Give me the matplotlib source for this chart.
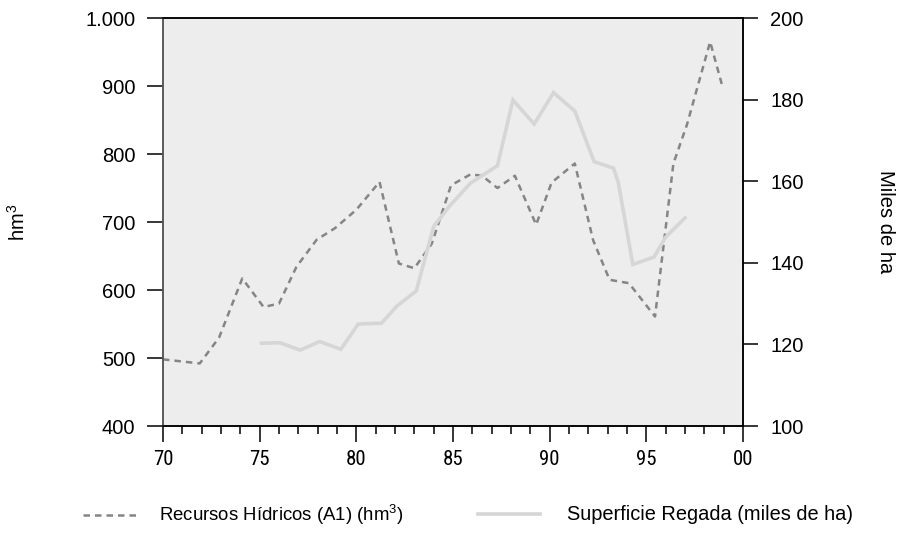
"""
plot.py — Recursos hídricos vs superficie regada, 1970-2000.
"""

import matplotlib

matplotlib.use("Agg")
import matplotlib.pyplot as plt
from matplotlib import font_manager
from matplotlib.font_manager import FontProperties
from matplotlib.ticker import FixedLocator, MultipleLocator

# ---------------------------------------------------------------------------
# Data
# ---------------------------------------------------------------------------

# Recursos Hídricos (A1), hm3 — left axis
water_years = [70.0, 71.9, 72.9, 74.1, 75.2, 76.0, 76.9, 77.95, 78.9, 80.0,
               81.2, 82.2, 83.0, 83.9, 84.9, 85.9, 86.5, 87.3, 88.2, 89.3,
               90.1, 91.3, 92.25, 93.1, 94.1, 95.45, 96.4, 97.1, 98.3, 98.9]
water_hm3 = [498, 492, 530, 617, 575, 580, 634, 674, 691, 718,
             759, 639, 632, 668, 754, 770, 768, 750, 768, 696,
             758, 786, 673, 615, 610, 561, 786, 843, 965, 903]

# Superficie Regada, miles de ha — right axis
irrig_years = [75.1, 76.05, 77.1, 78.1, 79.2, 80.1, 81.3, 82.1, 83.1, 84.0,
               84.8, 85.9, 87.3, 88.1, 89.2, 90.2, 91.3, 92.3, 93.3, 93.55,
               94.3, 95.4, 96.0, 97.0]
irrig_kha = [120.3, 120.4, 118.6, 120.7, 118.8, 125.0, 125.2, 129.4, 133.1, 148.9,
             153.8, 159.5, 163.8, 179.9, 174.0, 181.7, 177.2, 164.8, 163.2, 159.7,
             139.6, 141.4, 146.3, 151.0]

x_tick_pos = [70, 75, 80, 85, 90, 95, 100]
x_tick_labels = ["70", "75", "80", "85", "90", "95", "00"]
left_ticks = [400, 500, 600, 700, 800, 900, 1000]
left_tick_labels = ["400", "500", "600", "700", "800", "900", "1.000"]
right_ticks = [100, 120, 140, 160, 180, 200]

# ---------------------------------------------------------------------------
# Fonts
# ---------------------------------------------------------------------------

_entries = font_manager.fontManager.ttflist
_installed = {f.name for f in _entries}
BASE_FONT = "Liberation Sans" if "Liberation Sans" in _installed else "DejaVu Sans"
plt.rcParams["font.family"] = [BASE_FONT, "DejaVu Sans"]
plt.rcParams["mathtext.fontset"] = "custom"
plt.rcParams["mathtext.rm"] = BASE_FONT


def _find_narrow_font():
    """Return a path to a condensed sans font if one is installed, else None."""
    preferred = ["Liberation Sans Narrow", "Roboto Condensed", "Open Sans Condensed",
                 "Noto Sans", "DejaVu Sans", "Open Sans", "Roboto"]
    for fam in preferred:
        for f in _entries:
            if f.name != fam or f.style != "normal":
                continue
            if f.weight not in (400, "normal", "regular"):
                continue
            narrow = "Narrow" in f.name or "Condensed" in f.name or str(f.stretch) in (
                "condensed", "semi-condensed", "extra-condensed")
            if narrow:
                return f.fname
    return None


_narrow_path = _find_narrow_font()
if _narrow_path:
    XTICK_FONT = FontProperties(fname=_narrow_path, size=15)
else:
    XTICK_FONT = FontProperties(family=BASE_FONT, size=13)

WATER_COLOR = "#858585"
IRRIG_COLOR = "#d6d6d6"

# ---------------------------------------------------------------------------
# Plot
# ---------------------------------------------------------------------------

fig = plt.figure(figsize=(8.98, 5.36), dpi=100)
ax = fig.add_axes([163 / 898, 1 - 426 / 536, 580 / 898, 408 / 536])
ax.set_facecolor("#ededed")
ax2 = ax.twinx()

(h_water,) = ax.plot(water_years, water_hm3, color=WATER_COLOR, lw=1.8,
                     linestyle=(0, (2.6, 2.0)), zorder=3)
(h_irrig,) = ax2.plot(irrig_years, irrig_kha, color=IRRIG_COLOR, lw=2.6,
                      solid_joinstyle="miter", zorder=2)

ax.set_xlim(70, 100)
ax.set_ylim(400, 1000)
ax2.set_ylim(100, 200)

ax.xaxis.set_major_locator(FixedLocator(x_tick_pos))
ax.xaxis.set_minor_locator(MultipleLocator(1))
ax.set_xticklabels(x_tick_labels, fontproperties=XTICK_FONT)
ax.set_yticks(left_ticks)
ax.set_yticklabels(left_tick_labels, fontsize=14.5)
ax2.set_yticks(right_ticks)
ax2.set_yticklabels([str(t) for t in right_ticks], fontsize=14.5)

ax.tick_params(axis="x", which="major", length=11.5, width=1.1, pad=6, color="black")
ax.tick_params(axis="x", which="minor", length=5.5, width=1.1, color="black")
ax.tick_params(axis="y", length=11.5, width=1.1, pad=8.5, color="black")
ax2.tick_params(axis="y", length=11, width=1.1, pad=8.5, color="black")

for a in (ax, ax2):
    for side in ("top", "bottom", "right"):
        a.spines[side].set_color("black")
        a.spines[side].set_linewidth(1.1)
    a.spines["left"].set_color("#555555")
    a.spines["left"].set_linewidth(1.1)

ax.set_ylabel("hm$^3$", fontsize=14.5, va="center")
ax.yaxis.set_label_coords(-0.25, 0.5)
ax2.set_ylabel("Miles de ha", fontsize=14.5, rotation=270, va="center")
ax2.yaxis.set_label_coords(1.245, 0.5)

# Two separate legend entries, placed below the axes like the reference.
leg1 = fig.legend([h_water], ["Recursos Hídricos (A1) (hm$^3$)"],
                  loc="center left", bbox_to_anchor=(83 / 898, 1 - 515 / 536),
                  frameon=False, borderpad=0, borderaxespad=0,
                  handlelength=3.0, handletextpad=1.1,
                  prop={"family": BASE_FONT, "size": 13.4})
leg2 = fig.legend([h_irrig], ["Superficie Regada (miles de ha)"],
                  loc="center left", bbox_to_anchor=(478 / 898, 1 - 515 / 536),
                  frameon=False, borderpad=0, borderaxespad=0,
                  handlelength=3.1, handletextpad=1.35,
                  prop={"family": BASE_FONT, "size": 14.4})

fig.savefig("out.png", dpi=100)
plt.close(fig)
